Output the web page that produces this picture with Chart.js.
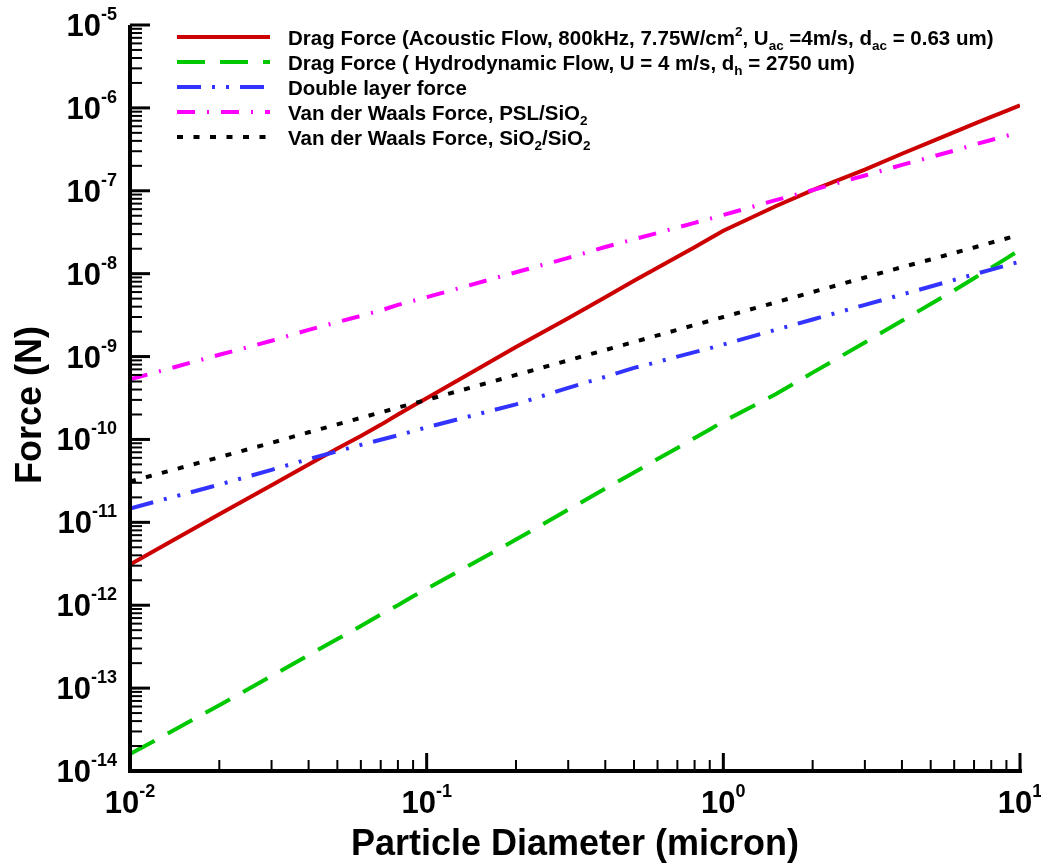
<!DOCTYPE html>
<html>
<head>
<meta charset="utf-8">
<script src="https://cdn.jsdelivr.net/npm/chart.js@4.4.0/dist/chart.umd.min.js"></script>
<style>
html,body{margin:0;padding:0;background:#ffffff;}
canvas{display:block;}
</style>
</head>
<body>
<canvas id="c" width="1041" height="866"></canvas>
<script>
// ---- data ----
const diameters = [0.01,0.02,0.03,0.04,0.05,0.06,0.07,0.08,0.09,
                   0.1,0.2,0.3,0.4,0.5,0.6,0.7,0.8,0.9,
                   1,1.5,2,3,4,5,6,7,8,9,10];
const dragAcoustic = [3.1e-12,1.25e-11,2.8e-11,5.0e-11,7.8e-11,1.1e-10,1.5e-10,2.0e-10,2.55e-10,
                      3.15e-10,1.3e-9,2.9e-9,5.2e-9,8.2e-9,1.18e-8,1.6e-8,2.08e-8,2.65e-8,
                      3.3e-8,6.5e-8,1.02e-7,1.8e-7,2.8e-7,3.9e-7,5.1e-7,6.4e-7,7.8e-7,9.2e-7,1.07e-6];
const dragHydro = [1.6e-14,6.2e-14,1.4e-13,2.5e-13,3.9e-13,5.6e-13,7.7e-13,1.0e-12,1.28e-12,
                   1.58e-12,6.2e-12,1.42e-11,2.55e-11,4.0e-11,5.8e-11,7.9e-11,1.04e-10,1.32e-10,
                   1.65e-10,3.5e-10,6.4e-10,1.48e-9,2.7e-9,4.3e-9,6.3e-9,8.8e-9,1.18e-8,1.53e-8,1.95e-8];
const doubleLayer = [1.47e-11,2.85e-11,4.3e-11,5.8e-11,7.2e-11,8.6e-11,9.9e-11,1.12e-10,1.26e-10,
                     1.4e-10,2.65e-10,4.2e-10,5.7e-10,7.3e-10,8.6e-10,1.0e-9,1.13e-9,1.26e-9,
                     1.4e-9,2.1e-9,2.8e-9,4.2e-9,5.6e-9,7.0e-9,8.4e-9,9.8e-9,1.12e-8,1.26e-8,1.4e-8];
const vdwPSL = [5.3e-10,1.05e-9,1.55e-9,2.1e-9,2.6e-9,3.1e-9,3.6e-9,4.2e-9,4.7e-9,
                5.2e-9,1.04e-8,1.55e-8,2.1e-8,2.6e-8,3.1e-8,3.6e-8,4.1e-8,4.6e-8,
                5.1e-8,7.7e-8,1.02e-7,1.53e-7,2.05e-7,2.55e-7,3.05e-7,3.6e-7,4.1e-7,4.6e-7,5.1e-7];
const vdwSiO2 = [3.1e-11,6.1e-11,9.1e-11,1.22e-10,1.52e-10,1.82e-10,2.12e-10,2.42e-10,2.72e-10,
                 3.0e-10,6.0e-10,9.0e-10,1.2e-9,1.5e-9,1.8e-9,2.1e-9,2.4e-9,2.7e-9,
                 3.0e-9,4.5e-9,6.0e-9,9.0e-9,1.2e-8,1.48e-8,1.78e-8,2.07e-8,2.37e-8,2.66e-8,2.95e-8];

const xTickExponents = [-2,-1,0,1];
const yTickExponents = [-14,-13,-12,-11,-10,-9,-8,-7,-6,-5];
const xAxisTitle = 'Particle Diameter (micron)';
const yAxisTitle = 'Force (N)';

// legend labels: segments with optional sub/sup
const legendLabels = [
  [{t:'Drag Force (Acoustic Flow, 800kHz, 7.75W/cm'},{t:'2',s:'sup'},{t:', U'},{t:'ac',s:'sub'},{t:' =4m/s, d'},{t:'ac',s:'sub'},{t:' = 0.63 um)'}],
  [{t:'Drag Force ( Hydrodynamic Flow, U = 4 m/s, d'},{t:'h',s:'sub'},{t:' = 2750 um)'}],
  [{t:'Double layer force'}],
  [{t:'Van der Waals Force, PSL/SiO'},{t:'2',s:'sub'}],
  [{t:'Van der Waals Force, SiO'},{t:'2',s:'sub'},{t:'/SiO'},{t:'2',s:'sub'}]
];

const seriesValues = [dragAcoustic, dragHydro, doubleLayer, vdwPSL, vdwSiO2];
const seriesStyles = [
  {color:'#cc0000', dash:[]},
  {color:'#00c800', dash:[28,15]},
  {color:'#3333ff', dash:[24,11,3,11,3,11]},
  {color:'#ff00ff', dash:[18,12,2,12]},
  {color:'#000000', dash:[6,10.5]}
];

const FONT = '"Liberation Sans", Arial, Helvetica, sans-serif';

function drawSegs(ctx, segs, x, baseline, align) {
  let total = 0;
  segs.forEach(s => { ctx.font = s.font; s.w = ctx.measureText(s.text).width; total += s.w; });
  let cx = align === 'right' ? x - total : (align === 'center' ? x - total / 2 : x);
  ctx.textAlign = 'left';
  ctx.textBaseline = 'alphabetic';
  segs.forEach(s => { ctx.font = s.font; ctx.fillText(s.text, cx, baseline + (s.dy || 0)); cx += s.w; });
  return total;
}

function powerLabel(exp) {
  return [
    {text:'10', font:'bold 31px ' + FONT},
    {text:String(exp), font:'bold 18px ' + FONT, dy:-16}
  ];
}

const decorPlugin = {
  id: 'decor',
  afterDraw(chart) {
    const ctx = chart.ctx;
    const a = chart.chartArea;
    const xs = chart.scales.x, ys = chart.scales.y;
    ctx.save();
    ctx.strokeStyle = '#000';
    ctx.fillStyle = '#000';
    ctx.lineCap = 'butt';

    // y ticks (inward)
    for (let i = 0; i < yTickExponents.length; i++) {
      const e = yTickExponents[i];
      const py = ys.getPixelForValue(Math.pow(10, e));
      ctx.lineWidth = 3;
      ctx.beginPath(); ctx.moveTo(a.left, py); ctx.lineTo(a.left + 20, py); ctx.stroke();
      if (i < yTickExponents.length - 1) {
        ctx.lineWidth = 2;
        for (let m = 2; m <= 9; m++) {
          const p = ys.getPixelForValue(m * Math.pow(10, e));
          ctx.beginPath(); ctx.moveTo(a.left, p); ctx.lineTo(a.left + 12, p); ctx.stroke();
        }
      }
      drawSegs(ctx, powerLabel(e), a.left - 13, py + 11, 'right');
    }
    // x ticks (inward)
    for (let i = 0; i < xTickExponents.length; i++) {
      const e = xTickExponents[i];
      const px = xs.getPixelForValue(Math.pow(10, e));
      ctx.lineWidth = 3;
      ctx.beginPath(); ctx.moveTo(px, a.bottom); ctx.lineTo(px, a.bottom - 18); ctx.stroke();
      if (i < xTickExponents.length - 1) {
        ctx.lineWidth = 2;
        for (let m = 2; m <= 9; m++) {
          const p = xs.getPixelForValue(m * Math.pow(10, e));
          ctx.beginPath(); ctx.moveTo(p, a.bottom); ctx.lineTo(p, a.bottom - 11); ctx.stroke();
        }
      }
      drawSegs(ctx, powerLabel(e), px, a.bottom + 42, 'center');
    }
    // axis lines
    ctx.lineWidth = 4;
    ctx.beginPath();
    ctx.moveTo(a.left, a.top);
    ctx.lineTo(a.left, a.bottom);
    ctx.lineTo(a.right + 2, a.bottom);
    ctx.stroke();

    // axis titles
    ctx.font = 'bold 36px ' + FONT;
    ctx.textAlign = 'center';
    ctx.textBaseline = 'alphabetic';
    ctx.fillText(xAxisTitle, (a.left + a.right) / 2, 855);
    ctx.save();
    ctx.translate(41, 405);
    ctx.rotate(-Math.PI / 2);
    ctx.fillText(yAxisTitle, 0, 0);
    ctx.restore();

    // legend
    const lx0 = 177, lx1 = 270, tx = 288;
    for (let i = 0; i < legendLabels.length; i++) {
      const cy = 37 + i * 25;
      const st = seriesStyles[i];
      ctx.strokeStyle = st.color;
      ctx.lineWidth = 4;
      ctx.setLineDash(st.dash);
      ctx.beginPath(); ctx.moveTo(lx0, cy); ctx.lineTo(lx1, cy); ctx.stroke();
      ctx.setLineDash([]);
      ctx.fillStyle = '#000';
      const segs = legendLabels[i].map(s => ({
        text: s.t,
        font: s.s ? 'bold 13.5px ' + FONT : 'bold 20.5px ' + FONT,
        dy: s.s === 'sub' ? 5 : (s.s === 'sup' ? -9 : 0)
      }));
      drawSegs(ctx, segs, tx, cy + 8, 'left');
    }
    ctx.restore();
  }
};

const datasets = seriesValues.map((vals, i) => ({
  label: 'series' + i,
  data: diameters.map((d, j) => ({x: d, y: vals[j]})),
  borderColor: seriesStyles[i].color,
  borderWidth: 4,
  borderDash: seriesStyles[i].dash,
  pointRadius: 0,
  fill: false,
  tension: 0
}));
// draw red on top
datasets.reverse();

new Chart(document.getElementById('c'), {
  type: 'line',
  data: { datasets },
  options: {
    responsive: false,
    animation: false,
    devicePixelRatio: 1,
    layout: { padding: { left: 130, top: 25, right: 21, bottom: 95 } },
    plugins: { legend: { display: false }, tooltip: { enabled: false }, title: { display: false } },
    scales: {
      x: { type: 'logarithmic', min: 0.01, max: 10, display: false },
      y: { type: 'logarithmic', min: 1e-14, max: 1e-5, display: false }
    }
  },
  plugins: [decorPlugin]
});
</script>
</body>
</html>
